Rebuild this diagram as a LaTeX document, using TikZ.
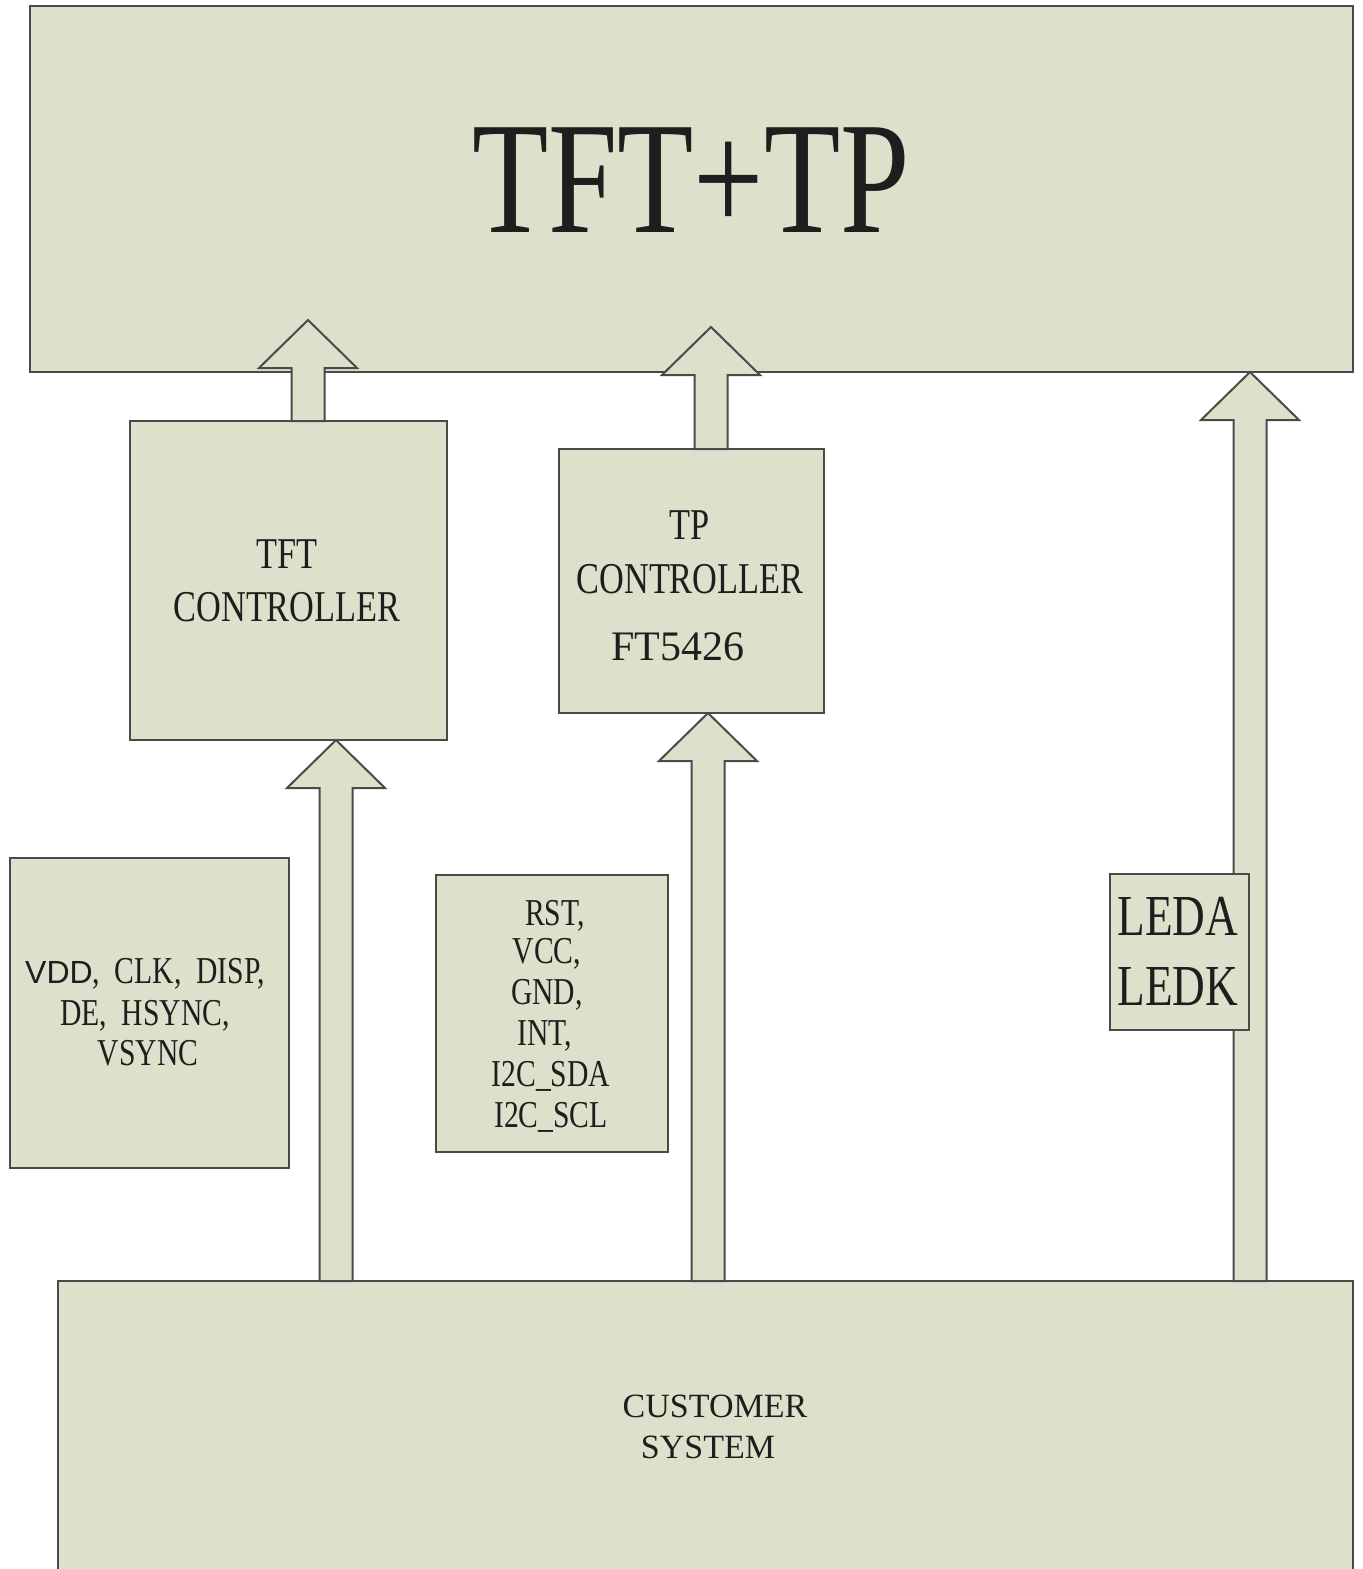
\documentclass[tikz,border=0pt]{standalone}
\usepackage{fontspec}
\setmainfont{Liberation Serif}
\newfontfamily\cond[FakeStretch=0.78]{Liberation Serif}
\newfontfamily\sansf{Liberation Sans}
\usetikzlibrary{calc}
\definecolor{boxfill}{HTML}{DDE0CA}
\definecolor{boxline}{HTML}{4A4A4A}
\definecolor{txt}{HTML}{1E1E1E}
\newcommand\blockup[2]{%
  \draw[blk] let \p1=#1, \p2=#2 in
    (\x1-8.25pt,\y1) -- (\x1-8.25pt,\y2-24pt) -- (\x1-24.5pt,\y2-24pt) -- (\x2,\y2)
    -- (\x1+24.5pt,\y2-24pt) -- (\x1+8.25pt,\y2-24pt) -- (\x1+8.25pt,\y1) -- cycle;}
\begin{document}
\begin{tikzpicture}[x=0.5pt,y=-0.5pt,
  box/.style={draw=boxline, fill=boxfill, line width=1pt, inner sep=0pt, outer sep=0pt},
  lbl/.style={anchor=base, inner sep=0pt, text=txt, font=\cond\fontsize{19}{22}\selectfont},
  blk/.style={draw=boxline, fill=boxfill, line width=1pt, line join=miter}]
\clip (0,0) rectangle (1362,1569);
\fill[white] (0,0) rectangle (1362,1569);
% boxes
\node[box, minimum width=1323*0.5pt, minimum height=366*0.5pt] (top) at (691.5,189) {};
\node[box, minimum width=317*0.5pt, minimum height=319*0.5pt] (tftc) at (288.5,580.5) {};
\node[box, minimum width=265*0.5pt, minimum height=264*0.5pt] (tpc) at (691.5,581) {};
\node[box, minimum width=1295*0.5pt, minimum height=319*0.5pt] (cust) at (705.5,1440.5) {};
% block arrows
\blockup{(308,0 |- tftc.north)}{($(308,0 |- top.south)+(0,-52)$)}
\blockup{(711,0 |- tpc.north)}{($(711,0 |- top.south)+(0,-45)$)}
\blockup{(1250,0 |- cust.north)}{(1250,0 |- top.south)}
\blockup{(336,0 |- cust.north)}{(336,0 |- tftc.south)}
\blockup{(708,0 |- cust.north)}{(708,0 |- tpc.south)}
% signal boxes
\node[box, minimum width=279*0.5pt, minimum height=310*0.5pt] (lsig) at (149.5,1013) {};
\node[box, minimum width=232*0.5pt, minimum height=277*0.5pt] (msig) at (552,1013.5) {};
\node[box, minimum width=139*0.5pt, minimum height=156*0.5pt] (led) at (1179.5,952) {};
% texts
\node[lbl, font=\cond\fontsize{80}{82}\selectfont] (ttitle) at (691,232) {TFT+TP};
\node[lbl, font=\cond\fontsize{22}{24}\selectfont] (tftc1) at (287,568) {TFT};
\node[lbl, font=\cond\fontsize{22}{24}\selectfont] (tftc2) at (287,621) {CONTROLLER};
\node[lbl, font=\cond\fontsize{22}{24}\selectfont] (tpc1) at (690,539) {TP};
\node[lbl, font=\cond\fontsize{22}{24}\selectfont] (tpc2) at (690,593) {CONTROLLER};
\node[lbl, font=\rmfamily\fontsize{21}{24}\selectfont] (tpc3) at (678,660) {FT5426};
\node[lbl] (ls1) at (145,983) {{\sansf\fontsize{16}{18}\selectfont VDD}, \ CLK, \ DISP,};
\node[lbl] (ls2) at (145,1025) {DE, \ HSYNC,};
\node[lbl] (ls3) at (148,1065) {VSYNC};
\node[lbl] (ms1) at (555,925) {RST,};
\node[lbl] (ms2) at (547,963) {VCC,};
\node[lbl] (ms3) at (547,1004) {GND,};
\node[lbl] (ms4) at (545,1045) {INT,};
\node[lbl] (ms5) at (551,1086) {I2C\_SDA};
\node[lbl] (ms6) at (551,1127) {I2C\_SCL};
\node[lbl, font=\cond\fontsize{29}{30}\selectfont] (led1) at (1178,935) {LEDA};
\node[lbl, font=\cond\fontsize{29}{30}\selectfont] (led2) at (1178,1005) {LEDK};
\node[lbl, font=\fontsize{17}{20}\selectfont] (cs1) at (715,1417) {CUSTOMER};
\node[lbl, font=\fontsize{17}{20}\selectfont] (cs2) at (708,1458) {SYSTEM};
\end{tikzpicture}
\end{document}
